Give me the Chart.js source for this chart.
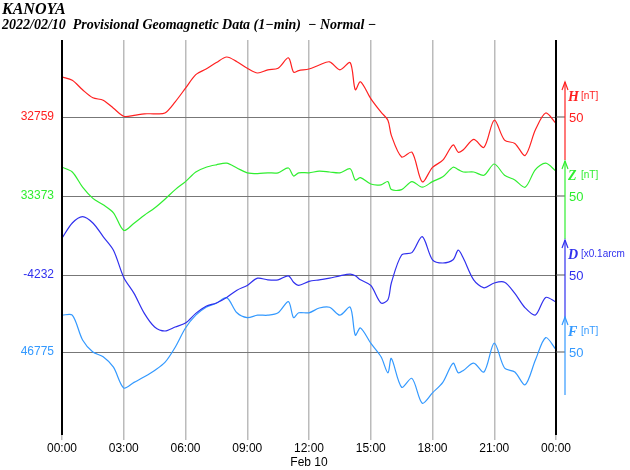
<!DOCTYPE html>
<html>
<head>
<meta charset="utf-8">
<script src="https://cdn.jsdelivr.net/npm/chart.js@4"></script>
<style>
body { margin: 0; background: #fff; }
#wrap { position: relative; width: 630px; height: 470px; }
.t1, .t2 { position: absolute; left: 2px; font-family: "Liberation Serif", serif; font-style: italic; font-weight: bold; color: #000; }
.t1 { top: 0px; font-size: 16px; }
.t2 { top: 17px; font-size: 14px; }
</style>
</head>
<body>
<div id="wrap">
<canvas id="c" width="630" height="470"></canvas>
<div class="t1">KANOYA</div>
<div class="t2">2022/02/10&nbsp; Provisional Geomagnetic Data (1&minus;min) &nbsp;&minus; Normal &minus;</div>
</div>
<script>
// minutes of day
var minutes = [0,30,60,90,120,150,180,210,240,270,300,330,360,390,420,450,480,510,540,570,600,630,660,
  675,690,720,750,780,810,840,855,870,900,930,950,960,990,1020,1050,1080,1110,1140,1155,1170,
  1200,1230,1260,1290,1320,1350,1380,1410,1440];

// deviations from the labelled base values (nT, D in 0.1 arcmin)
var hDev = [50,46,34,24,21,11,1,2,4,4,5,19,36,53,60,68,75,69,61,55,59,61,74,56,58,60,65,69,59,68,
  34,44,23,6,-4,-23,-50,-44,-81,-63,-54,-35,-44,-41,-28,-38,-4,-29,-33,-48,-16,5,-8];
var zDev = [36,30,11,-3,-11,-21,-43,-34,-24,-15,-4,8,18,30,36,39,41,35,29,28,29,29,35,25,29,29,31,30,29,34,
  20,23,15,14,18,8,8,18,11,18,24,36,33,30,30,26,40,26,20,11,33,41,31];
var dDev = [46,65,73,65,48,31,-3,-23,-48,-65,-70,-65,-60,-48,-39,-35,-28,-19,-13,-4,-6,-6,-1,-9,-13,-8,-6,-4,-1,1,
  -1,-6,-13,-35,-31,-10,25,28,48,19,15,19,31,21,-6,-16,-10,-9,-23,-41,-50,-28,-34];
var fDev = [46,46,15,0,-6,-19,-45,-38,-31,-23,-13,6,30,46,56,61,68,49,43,46,46,49,63,43,49,49,55,56,46,56,
  21,30,11,-6,-26,-8,-44,-33,-64,-51,-38,-14,-26,-23,-14,-25,11,-20,-25,-41,-10,18,3];

var baseLabels = ['32759', '33373', '-4232', '46775'];
var baseRows = [397.5, 298.75, 200, 103.75];   // where each trace's base sits on the y scale
var colors = ['#ff2020', '#30ee30', '#3030ee', '#3399ff'];
var compNames = ['H', 'Z', 'D', 'F'];
var compUnits = ['[nT]', '[nT]', '[x0.1arcm', '[nT]'];
var hourLabels = ['00:00','03:00','06:00','09:00','12:00','15:00','18:00','21:00','00:00'];

function series(dev, base) {
  return dev.map(function (v, i) { return { x: minutes[i], y: base + v }; });
}

var devs = [hDev, zDev, dDev, fDev];
var datasets = devs.map(function (d, i) {
  return { data: series(d, baseRows[i]), borderColor: colors[i], borderWidth: 1.2, pointRadius: 0, tension: 0.3 };
});

var rightScale = {
  id: 'rightScale',
  afterDraw: function (chart) {
    var ctx = chart.ctx, y = chart.scales.y, area = chart.chartArea;
    ctx.save();
    // border lines
    ctx.strokeStyle = '#000'; ctx.lineWidth = 2;
    ctx.beginPath();
    ctx.moveTo(area.left, area.top); ctx.lineTo(area.left, area.bottom);
    ctx.moveTo(area.right, area.top); ctx.lineTo(area.right, area.bottom);
    ctx.stroke();
    var bx = area.right + 9;
    for (var i = 0; i < 4; i++) {
      var yb = y.getPixelForValue(baseRows[i]);
      var bot = yb + 43, top = yb - 35;
      ctx.strokeStyle = '#555'; ctx.lineWidth = 1;
      ctx.beginPath(); ctx.moveTo(area.right, yb); ctx.lineTo(bx, yb); ctx.stroke();
      ctx.strokeStyle = colors[i]; ctx.lineWidth = 1.2;
      ctx.beginPath(); ctx.moveTo(bx, bot); ctx.lineTo(bx, top); ctx.stroke();
      ctx.beginPath(); ctx.moveTo(bx - 3, top + 8); ctx.lineTo(bx, top); ctx.lineTo(bx + 3, top + 8); ctx.stroke();
      ctx.fillStyle = colors[i];
      ctx.textBaseline = 'middle';
      ctx.font = 'italic bold 14px "Liberation Serif"';
      ctx.fillText(compNames[i], bx + 3, top + 15);
      ctx.font = '10px "Liberation Sans"';
      ctx.fillText(compUnits[i], bx + 16, top + 14);
      ctx.font = '13px "Liberation Sans"';
      ctx.fillText('50', bx + 4, yb + 1);
    }
    ctx.restore();
  }
};

new Chart(document.getElementById('c'), {
  type: 'line',
  data: { datasets: datasets },
  options: {
    responsive: false,
    animation: false,
    layout: { padding: { top: 40, right: 74, left: 0, bottom: 0 } },
    plugins: { legend: { display: false }, tooltip: { enabled: false } },
    scales: {
      x: {
        type: 'linear', min: 0, max: 1440,
        afterBuildTicks: function (s) { s.ticks = hourLabels.map(function (l, i) { return { value: i * 180 }; }); },
        afterFit: function (s) { s.height = 35; },
        ticks: {
          color: '#000', font: { family: 'Liberation Sans', size: 12 }, maxRotation: 0, padding: 1,
          callback: function (v, i) { return hourLabels[i]; }
        },
        grid: { color: '#bbb', lineWidth: 1.5, tickLength: 5, drawTicks: true },
        border: { display: false },
        title: { display: true, text: 'Feb 10', color: '#000', font: { family: 'Liberation Sans', size: 12 }, padding: { top: 1, bottom: 0 } }
      },
      y: {
        min: 0, max: 493.75,
        afterBuildTicks: function (s) { s.ticks = baseRows.map(function (v) { return { value: v }; }); },
        afterFit: function (s) { s.width = 62; },
        ticks: {
          font: { family: 'Liberation Sans', size: 12 }, padding: 8,
          color: function (c) { return colors[c.index]; },
          callback: function (v, i) { return baseLabels[i]; }
        },
        grid: { color: '#777', lineWidth: 1, drawTicks: false },
        border: { display: false }
      }
    }
  },
  plugins: [rightScale]
});
</script>
</body>
</html>
